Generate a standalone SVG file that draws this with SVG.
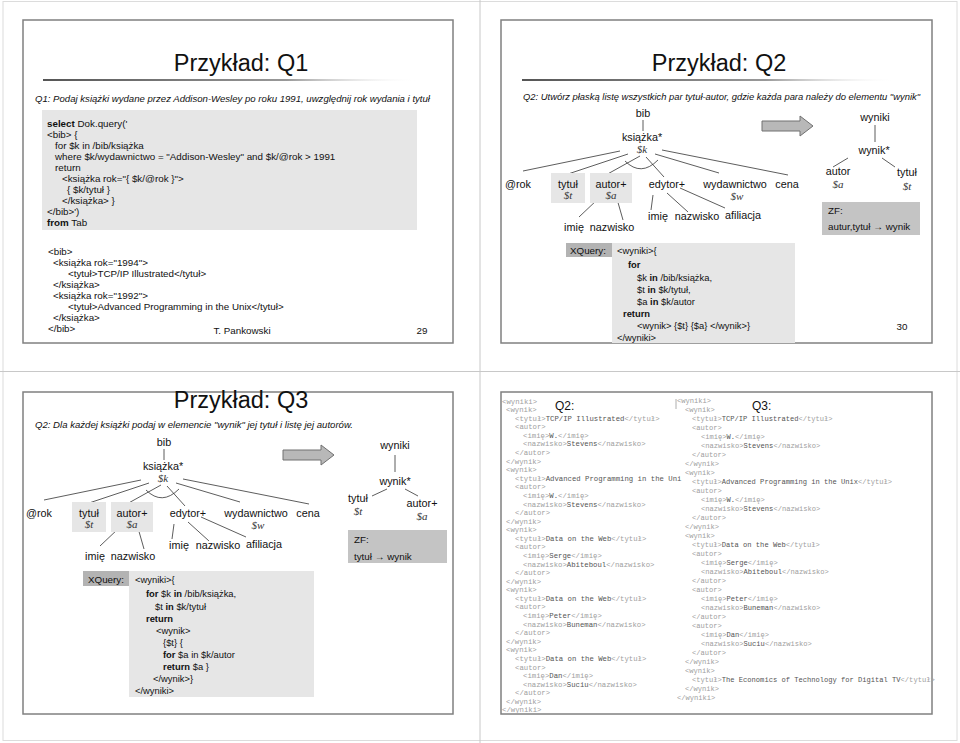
<svg xmlns="http://www.w3.org/2000/svg" width="960" height="743" viewBox="0 0 960 743">
<style>
.t{font-family:"Liberation Sans",Arial,sans-serif;fill:#111}
.title{font-size:23.5px;text-anchor:middle}
.sub{font-size:9.5px;font-style:italic}
.code{font-size:9.8px}
.xq{font-size:9.4px}
.b{font-weight:bold}
.lbl{font-size:10.8px;text-anchor:middle}
.var{font-family:"Liberation Serif","Times New Roman",serif;font-style:italic;font-size:11px;text-anchor:middle;fill:#333}
.xml{font-family:"Liberation Mono","Courier New",monospace;font-size:7.3px;fill:#a0a0a0}
.xml3{font-family:"Liberation Mono","Courier New",monospace;font-size:7.1px;fill:#a0a0a0}
.c{fill:#555}
.frame{fill:none;stroke:#808080;stroke-width:1.5}
.ln{stroke:#333;stroke-width:0.8;fill:none}
.hl{fill:#e6e6e6}
.box{fill:#e6e6e6}
.dk{fill:#b3b3b3}
.zf{fill:#c4c4c4}
.arrow{fill:#b8b8b8;stroke:#707070;stroke-width:1}
</style>
<defs>
<linearGradient id="ul" x1="0" x2="1" y1="0" y2="0">
<stop offset="0" stop-color="#555"/>
<stop offset="0.65" stop-color="#999"/>
<stop offset="1" stop-color="#fff" stop-opacity="0"/>
</linearGradient>
</defs>
<rect x="0" y="0" width="960" height="743" fill="#fff"/>
<rect x="3" y="1.5" width="954" height="739" fill="none" stroke="#dcdcdc" stroke-width="1"/>
<line x1="480" y1="0" x2="480" y2="743" stroke="#c8c8c8" stroke-width="1"/>
<line x1="0" y1="371.5" x2="960" y2="371.5" stroke="#c8c8c8" stroke-width="1"/>

<!-- Slide Q1 -->
<g id="slide-q1">
<rect class="frame" x="23" y="20" width="430" height="323"/>
<text class="t title" x="241" y="71">Przykład: Q1</text>
<rect x="43" y="79" width="375" height="2" fill="url(#ul)"/>
<text class="t sub" x="35" y="102" textLength="395" lengthAdjust="spacingAndGlyphs">Q1: Podaj książki wydane przez Addison-Wesley po roku 1991, uwzględnij rok wydania i tytuł</text>
<rect class="box" x="42" y="110" width="375" height="120"/>
<g class="t code">
<text x="47" y="127"><tspan class="b">select</tspan> Dok.query('</text>
<text x="47" y="138">&lt;bib&gt;  {</text>
<text x="55" y="149">for $k in /bib/książka</text>
<text x="55" y="160">where $k/wydawnictwo = "Addison-Wesley" and $k/@rok &gt; 1991</text>
<text x="55" y="171">return</text>
<text x="62" y="182">&lt;książka rok="{ $k/@rok }"&gt;</text>
<text x="67" y="193">{ $k/tytuł }</text>
<text x="62" y="204">&lt;/książka&gt; }</text>
<text x="47" y="215">&lt;/bib&gt;')</text>
<text x="47" y="226"><tspan class="b">from</tspan> Tab</text>
</g>
<g class="t code">
<text x="48" y="254.5">&lt;bib&gt;</text>
<text x="53" y="265.5">&lt;książka rok="1994"&gt;</text>
<text x="68" y="276.5">&lt;tytuł&gt;TCP/IP Illustrated&lt;/tytuł&gt;</text>
<text x="53" y="287.5">&lt;/książka&gt;</text>
<text x="53" y="298.5">&lt;książka rok="1992"&gt;</text>
<text x="68" y="309.5">&lt;tytuł&gt;Advanced Programming in the Unix&lt;/tytuł&gt;</text>
<text x="53" y="320.5">&lt;/książka&gt;</text>
<text x="48" y="331.5">&lt;/bib&gt;</text>
</g>
<text class="t code" x="242" y="334" text-anchor="middle" font-size="9.5">T. Pankowski</text>
<text class="t code" x="422" y="334" text-anchor="middle">29</text>
</g>

<!-- Slide Q2 -->
<g id="slide-q2">
<rect class="frame" x="501" y="20" width="431" height="323"/>
<text class="t title" x="719" y="71">Przykład: Q2</text>
<rect x="522" y="79" width="375" height="2" fill="url(#ul)"/>
<text class="t sub" x="523" y="100" textLength="397" lengthAdjust="spacingAndGlyphs">Q2: Utwórz płaską listę wszystkich par tytuł-autor, gdzie każda para należy do elementu "wynik"</text>
</g>

<g id="q2-connectors">
<line class="ln" x1="643" y1="120" x2="643" y2="131"/>
<line class="ln" x1="620" y1="151" x2="523" y2="171"/>
<line class="ln" x1="628" y1="154" x2="568" y2="174"/>
<line class="ln" x1="640" y1="156" x2="604" y2="176"/>
<line class="ln" x1="646" y1="157" x2="664" y2="177"/>
<path class="ln" d="M625,161 Q641,177 658,160"/>
<line class="ln" x1="655" y1="154" x2="719" y2="173"/>
<line class="ln" x1="662" y1="150" x2="788" y2="175"/>
<line class="ln" x1="598" y1="199" x2="579" y2="217"/>
<line class="ln" x1="617" y1="199" x2="623" y2="220"/>
<line class="ln" x1="653" y1="195" x2="651" y2="210"/>
<line class="ln" x1="667" y1="193" x2="688" y2="212"/>
<line class="ln" x1="680" y1="188" x2="725" y2="208"/>
<line class="ln" x1="875" y1="125" x2="875" y2="142"/>
<line class="ln" x1="848" y1="158" x2="833" y2="167"/>
<line class="ln" x1="882" y1="158" x2="895" y2="167"/>
</g>
<g id="q2-bib"><text class="t lbl" x="643" y="117">bib</text></g>
<g id="q2-ksiazka"><text class="t lbl" x="642" y="141">książka*</text><text class="var" x="642" y="153">$k</text></g>
<g id="q2-rok"><text class="t lbl" x="518" y="187.5">@rok</text></g>
<g id="q2-tytul"><rect class="hl" x="551" y="173" width="34" height="30"/><text class="t lbl" x="568" y="187.5">tytuł</text><text class="var" x="568" y="199">$t</text></g>
<g id="q2-autor"><rect class="hl" x="590" y="173" width="42" height="30"/><text class="t lbl" x="611" y="187.5">autor+</text><text class="var" x="611" y="199">$a</text></g>
<g id="q2-edytor"><text class="t lbl" x="667" y="187.5">edytor+</text></g>
<g id="q2-wydawnictwo"><text class="t lbl" x="735" y="187.5">wydawnictwo</text><text class="var" x="737" y="200">$w</text></g>
<g id="q2-cena"><text class="t lbl" x="787" y="187.5">cena</text></g>
<g id="q2-a-imie"><text class="t lbl" x="574" y="231">imię</text></g>
<g id="q2-a-nazwisko"><text class="t lbl" x="612" y="231">nazwisko</text></g>
<g id="q2-e-imie"><text class="t lbl" x="658" y="220">imię</text></g>
<g id="q2-e-nazwisko"><text class="t lbl" x="697" y="220">nazwisko</text></g>
<g id="q2-e-afiliacja"><text class="t lbl" x="743" y="219">afiliacja</text></g>
<g id="q2-arrow"><path class="arrow" d="M762,121 L800,121 L800,116 L813,126 L800,136 L800,131 L762,131 Z"/></g>
<g id="q2-wyniki"><text class="t lbl" x="875" y="121">wyniki</text></g>
<g id="q2-wynik"><text class="t lbl" x="874" y="154">wynik*</text></g>
<g id="q2-r-autor"><text class="t lbl" x="838" y="175">autor</text><text class="var" x="838" y="188">$a</text></g>
<g id="q2-r-tytul"><text class="t lbl" x="907" y="176">tytuł</text><text class="var" x="907" y="190">$t</text></g>
<g id="q2-zf"><rect class="zf" x="822" y="202" width="98" height="33"/><text class="t code" x="828" y="214">ZF:</text><text class="t code" x="828" y="230">autur,tytuł → wynik</text></g>
<g id="q2-xquery">
<rect class="dk" x="566" y="243" width="46" height="14"/>
<text class="t code" x="570" y="253.5">XQuery:</text>
<rect class="box" x="612" y="243" width="183" height="100"/>
<g class="t xq">
<text x="617" y="254">&lt;wyniki&gt;{</text>
<text x="628" y="268" class="b">for</text>
<text x="637" y="281">$k <tspan class="b">in</tspan> /bib/książka,</text>
<text x="637" y="293">$t <tspan class="b">in</tspan> $k/tytuł,</text>
<text x="637" y="305">$a <tspan class="b">in</tspan> $k/autor</text>
<text x="623" y="316.5" class="b">return</text>
<text x="637" y="329">&lt;wynik&gt; {$t} {$a} &lt;/wynik&gt;}</text>
<text x="617" y="341">&lt;/wyniki&gt;</text>
</g>
<text class="t code" x="902" y="330" text-anchor="middle">30</text>
</g>

<!-- Slide Q3 -->
<g id="slide-q3">
<rect class="frame" x="23" y="392" width="430" height="322"/>
<text class="t title" x="241" y="408" font-size="22">Przykład: Q3</text>
<text class="t sub" x="35" y="428" textLength="318" lengthAdjust="spacingAndGlyphs">Q2: Dla każdej książki podaj w elemencie "wynik" jej tytuł i listę jej autorów.</text>
</g>
<g id="q3-connectors">
<g transform="translate(-479,329)">
<line class="ln" x1="643" y1="120" x2="643" y2="131"/>
<line class="ln" x1="620" y1="151" x2="523" y2="171"/>
<line class="ln" x1="628" y1="154" x2="568" y2="174"/>
<line class="ln" x1="640" y1="156" x2="604" y2="176"/>
<line class="ln" x1="646" y1="157" x2="664" y2="177"/>
<path class="ln" d="M625,161 Q641,177 658,160"/>
<line class="ln" x1="655" y1="154" x2="719" y2="173"/>
<line class="ln" x1="662" y1="150" x2="788" y2="175"/>
<line class="ln" x1="598" y1="199" x2="579" y2="217"/>
<line class="ln" x1="617" y1="199" x2="623" y2="220"/>
<line class="ln" x1="653" y1="195" x2="651" y2="210"/>
<line class="ln" x1="667" y1="193" x2="688" y2="212"/>
<line class="ln" x1="680" y1="188" x2="725" y2="208"/>
</g>
<line class="ln" x1="395" y1="455" x2="395" y2="472"/>
<line class="ln" x1="387" y1="489" x2="372" y2="496"/>
<line class="ln" x1="405" y1="489" x2="418" y2="496"/>
</g>
<g transform="translate(-479,329)">
<g id="q3-bib"><text class="t lbl" x="643" y="117">bib</text></g>
<g id="q3-ksiazka"><text class="t lbl" x="642" y="141">książka*</text><text class="var" x="642" y="153">$k</text></g>
<g id="q3-rok"><text class="t lbl" x="518" y="187.5">@rok</text></g>
<g id="q3-tytul"><rect class="hl" x="551" y="173" width="34" height="30"/><text class="t lbl" x="568" y="187.5">tytuł</text><text class="var" x="568" y="199">$t</text></g>
<g id="q3-autor"><rect class="hl" x="590" y="173" width="42" height="30"/><text class="t lbl" x="611" y="187.5">autor+</text><text class="var" x="611" y="199">$a</text></g>
<g id="q3-edytor"><text class="t lbl" x="667" y="187.5">edytor+</text></g>
<g id="q3-wydawnictwo"><text class="t lbl" x="735" y="187.5">wydawnictwo</text><text class="var" x="737" y="200">$w</text></g>
<g id="q3-cena"><text class="t lbl" x="787" y="187.5">cena</text></g>
<g id="q3-a-imie"><text class="t lbl" x="574" y="231">imię</text></g>
<g id="q3-a-nazwisko"><text class="t lbl" x="612" y="231">nazwisko</text></g>
<g id="q3-e-imie"><text class="t lbl" x="658" y="220">imię</text></g>
<g id="q3-e-nazwisko"><text class="t lbl" x="697" y="220">nazwisko</text></g>
<g id="q3-e-afiliacja"><text class="t lbl" x="743" y="219">afiliacja</text></g>
<g id="q3-arrow"><path class="arrow" d="M762,121 L800,121 L800,116 L813,126 L800,136 L800,131 L762,131 Z"/></g>
</g>
<g id="q3-wyniki"><text class="t lbl" x="395" y="449">wyniki</text></g>
<g id="q3-wynik"><text class="t lbl" x="395" y="485">wynik*</text></g>
<g id="q3-r-tytul"><text class="t lbl" x="358" y="502">tytuł</text><text class="var" x="358" y="515">$t</text></g>
<g id="q3-r-autor"><text class="t lbl" x="422" y="507">autor+</text><text class="var" x="422" y="520">$a</text></g>
<g id="q3-zf"><rect class="zf" x="348" y="530" width="99" height="33"/><text class="t code" x="354" y="543">ZF:</text><text class="t code" x="354" y="560">tytuł → wynik</text></g>
<g id="q3-xquery">
<rect class="dk" x="83" y="571" width="46" height="15"/>
<text class="t code" x="88" y="582.5">XQuery:</text>
<rect class="box" x="129" y="571" width="185" height="126"/>
<g class="t xq">
<text x="135" y="583">&lt;wyniki&gt;{</text>
<text x="146" y="597"><tspan class="b">for</tspan> $k <tspan class="b">in</tspan> /bib/książka,</text>
<text x="155" y="610">$t <tspan class="b">in</tspan> $k/tytuł</text>
<text x="146" y="622" class="b">return</text>
<text x="156" y="634">&lt;wynik&gt;</text>
<text x="163" y="645.5">{$t} {</text>
<text x="163" y="657.5"><tspan class="b">for</tspan> $a in $k/autor</text>
<text x="163" y="670" class="b"><tspan>return</tspan><tspan font-weight="normal"> $a }</tspan></text>
<text x="153" y="681.5">&lt;/wynik&gt;}</text>
<text x="135" y="693.5">&lt;/wyniki&gt;</text>
</g>
</g>

<!-- Slide outputs -->
<g id="slide-out">
<rect class="frame" x="501" y="392" width="431" height="322"/>
<text class="t" x="555" y="410" font-size="12">Q2:</text>
<text class="t" x="752" y="410" font-size="12">Q3:</text>
<line x1="676" y1="399" x2="676" y2="409" stroke="#999" stroke-width="0.8"/>
<g class="xml">
<text x="502" y="403.5">&lt;wyniki&gt;</text>
<text x="506" y="412.1">&lt;wynik&gt;</text>
<text x="515" y="420.7">&lt;tytuł&gt;<tspan class="c">TCP/IP Illustrated</tspan>&lt;/tytuł&gt;</text>
<text x="515" y="429.2">&lt;autor&gt;</text>
<text x="523" y="437.8">&lt;imię&gt;<tspan class="c">W.</tspan>&lt;/imię&gt;</text>
<text x="523" y="446.4">&lt;nazwisko&gt;<tspan class="c">Stevens</tspan>&lt;/nazwisko&gt;</text>
<text x="515" y="455">&lt;/autor&gt;</text>
<text x="506" y="463.6">&lt;/wynik&gt;</text>
<text x="506" y="472.1">&lt;wynik&gt;</text>
<text x="515" y="480.7">&lt;tytuł&gt;<tspan class="c">Advanced Programming in the Uni</tspan></text>
<text x="515" y="489.3">&lt;autor&gt;</text>
<text x="523" y="497.9">&lt;imię&gt;<tspan class="c">W.</tspan>&lt;/imię&gt;</text>
<text x="523" y="506.5">&lt;nazwisko&gt;<tspan class="c">Stevens</tspan>&lt;/nazwisko&gt;</text>
<text x="515" y="515">&lt;/autor&gt;</text>
<text x="506" y="523.6">&lt;/wynik&gt;</text>
<text x="506" y="532.2">&lt;wynik&gt;</text>
<text x="515" y="540.8">&lt;tytuł&gt;<tspan class="c">Data on the Web</tspan>&lt;/tytuł&gt;</text>
<text x="515" y="549.4">&lt;autor&gt;</text>
<text x="523" y="557.9">&lt;imię&gt;<tspan class="c">Serge</tspan>&lt;/imię&gt;</text>
<text x="523" y="566.5">&lt;nazwisko&gt;<tspan class="c">Abiteboul</tspan>&lt;/nazwisko&gt;</text>
<text x="515" y="575.1">&lt;/autor&gt;</text>
<text x="506" y="583.7">&lt;/wynik&gt;</text>
<text x="506" y="592.3">&lt;wynik&gt;</text>
<text x="515" y="600.8">&lt;tytuł&gt;<tspan class="c">Data on the Web</tspan>&lt;/tytuł&gt;</text>
<text x="515" y="609.4">&lt;autor&gt;</text>
<text x="523" y="618">&lt;imię&gt;<tspan class="c">Peter</tspan>&lt;/imię&gt;</text>
<text x="523" y="626.6">&lt;nazwisko&gt;<tspan class="c">Buneman</tspan>&lt;/nazwisko&gt;</text>
<text x="515" y="635.2">&lt;/autor&gt;</text>
<text x="506" y="643.7">&lt;/wynik&gt;</text>
<text x="506" y="652.3">&lt;wynik&gt;</text>
<text x="515" y="660.9">&lt;tytuł&gt;<tspan class="c">Data on the Web</tspan>&lt;/tytuł&gt;</text>
<text x="515" y="669.5">&lt;autor&gt;</text>
<text x="523" y="678.1">&lt;imię&gt;<tspan class="c">Dan</tspan>&lt;/imię&gt;</text>
<text x="523" y="686.6">&lt;nazwisko&gt;<tspan class="c">Suciu</tspan>&lt;/nazwisko&gt;</text>
<text x="515" y="695.2">&lt;/autor&gt;</text>
<text x="506" y="703.8">&lt;/wynik&gt;</text>
<text x="502" y="712.4">&lt;/wyniki&gt;</text>
</g>
<g class="xml3">
<text x="677" y="402.5">&lt;wyniki&gt;</text>
<text x="685" y="411.5">&lt;wynik&gt;</text>
<text x="692" y="420.5">&lt;tytuł&gt;<tspan class="c">TCP/IP Illustrated</tspan>&lt;/tytuł&gt;</text>
<text x="692" y="429.5">&lt;autor&gt;</text>
<text x="701" y="438.5">&lt;imię&gt;<tspan class="c">W.</tspan>&lt;/imię&gt;</text>
<text x="701" y="447.5">&lt;nazwisko&gt;<tspan class="c">Stevens</tspan>&lt;/nazwisko&gt;</text>
<text x="692" y="456.5">&lt;/autor&gt;</text>
<text x="685" y="465.5">&lt;/wynik&gt;</text>
<text x="685" y="474.5">&lt;wynik&gt;</text>
<text x="692" y="483.5">&lt;tytuł&gt;<tspan class="c">Advanced Programming in the Unix</tspan>&lt;/tytuł&gt;</text>
<text x="692" y="492.5">&lt;autor&gt;</text>
<text x="701" y="501.5">&lt;imię&gt;<tspan class="c">W.</tspan>&lt;/imię&gt;</text>
<text x="701" y="510.5">&lt;nazwisko&gt;<tspan class="c">Stevens</tspan>&lt;/nazwisko&gt;</text>
<text x="692" y="519.5">&lt;/autor&gt;</text>
<text x="685" y="528.5">&lt;/wynik&gt;</text>
<text x="685" y="537.5">&lt;wynik&gt;</text>
<text x="692" y="546.5">&lt;tytuł&gt;<tspan class="c">Data on the Web</tspan>&lt;/tytuł&gt;</text>
<text x="692" y="555.5">&lt;autor&gt;</text>
<text x="701" y="564.5">&lt;imię&gt;<tspan class="c">Serge</tspan>&lt;/imię&gt;</text>
<text x="701" y="573.5">&lt;nazwisko&gt;<tspan class="c">Abiteboul</tspan>&lt;/nazwisko&gt;</text>
<text x="692" y="582.5">&lt;/autor&gt;</text>
<text x="692" y="591.5">&lt;autor&gt;</text>
<text x="701" y="600.5">&lt;imię&gt;<tspan class="c">Peter</tspan>&lt;/imię&gt;</text>
<text x="701" y="609.5">&lt;nazwisko&gt;<tspan class="c">Buneman</tspan>&lt;/nazwisko&gt;</text>
<text x="692" y="618.5">&lt;/autor&gt;</text>
<text x="692" y="627.5">&lt;autor&gt;</text>
<text x="701" y="636.5">&lt;imię&gt;<tspan class="c">Dan</tspan>&lt;/imię&gt;</text>
<text x="701" y="645.5">&lt;nazwisko&gt;<tspan class="c">Suciu</tspan>&lt;/nazwisko&gt;</text>
<text x="692" y="654.5">&lt;/autor&gt;</text>
<text x="685" y="663.5">&lt;/wynik&gt;</text>
<text x="685" y="672.5">&lt;wynik&gt;</text>
<text x="692" y="681.5">&lt;tytuł&gt;<tspan class="c">The Economics of Technology for Digital TV</tspan>&lt;/tytuł&gt;</text>
<text x="685" y="690.5">&lt;/wynik&gt;</text>
<text x="677" y="699.5">&lt;/wyniki&gt;</text>
</g>
</g>
</svg>
